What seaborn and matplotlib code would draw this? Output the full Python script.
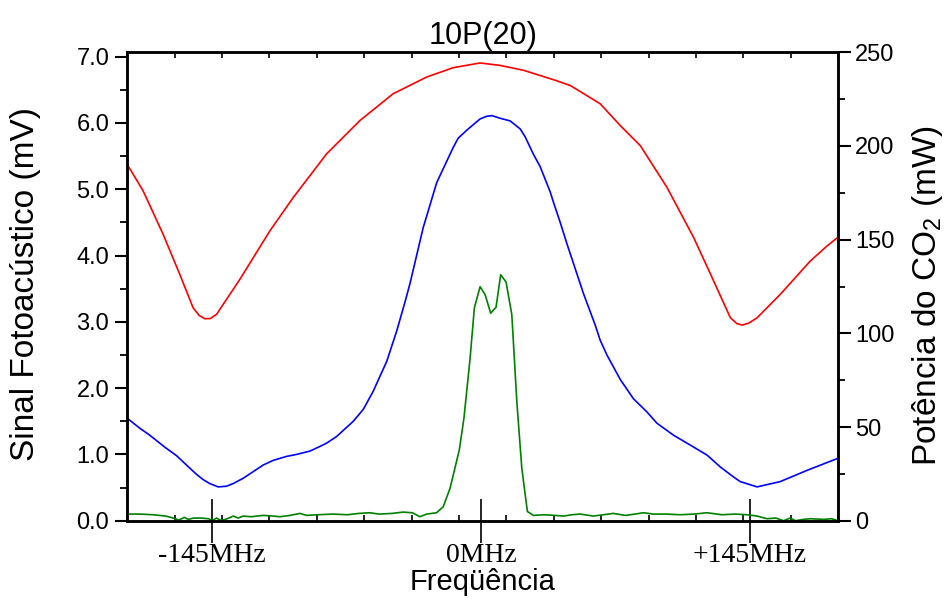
import numpy as np
import matplotlib
matplotlib.use("Agg")
import matplotlib.pyplot as plt
from matplotlib.ticker import FixedLocator, FormatStrFormatter
import seaborn as sns

# red curve - CO2 laser power (right axis, mW)
freq_red = [-191.0, -182.3, -171.5, -162.5, -155.3, -152.0, -149.0, -146.0, -142.7, -130.1,
            -113.9, -101.3, -83.3, -65.3, -47.4, -29.3, -15.0, -0.5, 10.3, 22.9, 39.0,
            48.1, 64.3, 75.1, 85.9, 100.3, 114.7, 125.5, 134.5, 138.0, 140.8, 144.5,
            148.9, 161.4, 177.6, 186.7, 192.8]
power_red = [190.4, 176.1, 152.9, 131.5, 113.6, 109.5, 107.8, 107.9, 110.1, 128.8,
             154.7, 172.5, 195.8, 213.6, 227.9, 236.8, 241.8, 244.3, 243.0, 240.4, 235.4,
             232.3, 222.5, 210.9, 200.2, 177.9, 151.1, 127.9, 108.3, 105.2, 104.4, 105.5,
             108.3, 120.8, 138.6, 146.7, 151.5]

# blue curve - photoacoustic signal (left axis, mV)
freq_blue = [-191.0, -184.3, -178.7, -175.1, -170.6, -164.2, -158.9, -153.5, -149.9, -146.3,
             -141.8, -137.3, -133.7, -128.3, -122.9, -117.5, -112.1, -104.9, -99.5, -92.3,
             -86.9, -83.3, -77.9, -68.9, -63.5, -58.2, -54.5, -50.9, -45.5, -41.0, -38.3,
             -31.2, -23.9, -15.0, -12.3, -9.6, -7.7, -0.5, 3.1, 5.8, 10.3, 15.7, 18.4, 21.1,
             23.8, 28.2, 31.9, 37.3, 39.1, 42.7, 46.3, 55.2, 61.6, 64.3, 67.9, 75.1, 82.2,
             89.5, 94.9, 103.8, 112.9, 121.9, 129.1, 136.2, 139.8, 148.9, 161.4, 175.9, 192.4]
signal_blue = [1.55, 1.40, 1.29, 1.21, 1.11, 0.98, 0.84, 0.70, 0.62, 0.56,
               0.51, 0.52, 0.56, 0.64, 0.74, 0.84, 0.91, 0.97, 1.00, 1.05,
               1.12, 1.17, 1.27, 1.50, 1.68, 1.95, 2.18, 2.40, 2.86, 3.30, 3.58,
               4.42, 5.10, 5.63, 5.77, 5.84, 5.89, 6.06, 6.10, 6.11, 6.07, 6.03, 5.97, 5.91,
               5.79, 5.53, 5.34, 4.96, 4.80, 4.50, 4.18, 3.43, 2.95, 2.72, 2.50, 2.13, 1.84,
               1.64, 1.47, 1.29, 1.14, 0.99, 0.81, 0.66, 0.59, 0.51, 0.59, 0.76, 0.94]

# green curve - photoacoustic signal (left axis, mV)
freq_green = [-191.0, -184, -177, -170, -166, -163, -160, -158, -155, -151, -147, -145,
              -142.7, -140, -136, -133.7, -131, -128.3, -124, -117.5, -112, -108.5, -103,
              -97.7, -94, -88, -80, -72, -66, -60, -55, -48, -42, -37, -33, -29.3, -24,
              -20.4, -16.7, -11.7, -9.2, -5.9, -3.6, -0.5, 2.2, 5.2, 8.1, 10.6, 13.5, 16.6,
              19.3, 22.0, 25.0, 28.2, 34, 40, 44.4, 49, 53.5, 60.6, 66, 71.4, 78, 83, 87.6,
              93, 100, 107.5, 115, 121.9, 130, 137, 143.5, 148.9, 154.3, 159, 163.2, 166.8,
              169.5, 174, 177.6, 184.8, 189, 192.8]
signal_green = [0.10, 0.10, 0.09, 0.07, 0.04, 0.01, 0.05, 0.02, 0.04, 0.04, 0.03, 0.00,
                0.04, 0.00, 0.04, 0.07, 0.04, 0.07, 0.06, 0.08, 0.07, 0.06, 0.08,
                0.11, 0.08, 0.09, 0.10, 0.09, 0.11, 0.12, 0.10, 0.11, 0.13, 0.12, 0.06, 0.10, 0.12,
                0.21, 0.49, 1.07, 1.55, 2.45, 3.21, 3.53, 3.41, 3.13, 3.22, 3.71, 3.60, 3.11,
                1.80, 0.79, 0.14, 0.08, 0.09, 0.08, 0.07, 0.09, 0.10, 0.07, 0.09, 0.11, 0.08, 0.10, 0.12,
                0.10, 0.10, 0.09, 0.10, 0.12, 0.09, 0.10, 0.09, 0.07, 0.03, 0.04, 0.00, 0.04,
                0.00, 0.02, 0.03, 0.02, 0.03, 0.00]

xtick_pos = [-145, 0, 145]
xtick_labels = ["-145MHz", "0MHz", "+145MHz"]

sns.set_style("ticks")
plt.rcParams["font.family"] = ["Liberation Sans", "DejaVu Sans"]
plt.rcParams["mathtext.fontset"] = "custom"
plt.rcParams["mathtext.rm"] = "Liberation Sans"
# plain black text and ticks like the original
for key in ["text.color", "axes.labelcolor", "xtick.color", "ytick.color", "axes.edgecolor"]:
    plt.rcParams[key] = "black"

fig = plt.figure(figsize=(9.5, 5.99), dpi=100)
ax = fig.add_axes([0.134, 0.1307, 0.7484, 0.782])
ax2 = ax.twinx()

sns.lineplot(x=freq_blue, y=signal_blue, ax=ax, color="#0000ff", linewidth=1.2)
sns.lineplot(x=freq_green, y=signal_green, ax=ax, color="#008000", linewidth=1.2)
sns.lineplot(x=freq_red, y=power_red, ax=ax2, color="#ff0000", linewidth=1.2)

xlo, xhi = -190.8, 192.7
ax.set_xlim(xlo, xhi)
ax.set_ylim(0, 7.065)
ax2.set_ylim(0, 250)

# x axis
ax.set_xticks(xtick_pos)
ax.set_xticklabels(xtick_labels, fontfamily="Liberation Serif", fontsize=20)
ax.xaxis.set_minor_locator(FixedLocator(np.linspace(xlo, xhi, 16)))
ax.tick_params(axis="x", which="major", direction="inout", length=32, width=1.2, pad=0)
ax.tick_params(axis="x", which="minor", direction="in", length=4, width=1.2, top=True, bottom=True)

# left y axis
ax.set_yticks(np.arange(0, 7.01, 1.0))
ax.yaxis.set_minor_locator(FixedLocator(np.arange(0.5, 7.0, 1.0)))
ax.yaxis.set_major_formatter(FormatStrFormatter("%.1f"))
ax.tick_params(axis="y", which="major", direction="out", length=9, width=1.5, labelsize=17, pad=4)
ax.tick_params(axis="y", which="minor", direction="out", length=5, width=1.3)

# right y axis
ax2.set_yticks(np.arange(0, 251, 50))
ax2.yaxis.set_minor_locator(FixedLocator(np.arange(25, 250, 50)))
ax2.tick_params(axis="y", which="major", direction="out", length=9, width=1.5, labelsize=17, pad=3)
ax2.tick_params(axis="y", which="minor", direction="out", length=5, width=1.3)

for a in (ax, ax2):
    for s in a.spines.values():
        s.set_linewidth(1.8)
        s.set_color("black")

ax.set_xlabel("Freqüência", fontsize=21)
ax.set_ylabel("Sinal Fotoacústico (mV)", fontsize=24)
ax2.set_ylabel(r"Potência do CO$_{\mathregular{2}}$ (mW)", fontsize=24)
ax.xaxis.set_label_coords(0.5, -0.1)
ax.yaxis.set_label_coords(-0.122, 0.505)
ax2.yaxis.set_label_coords(1.101, 0.48)
ax.set_title("10P(20)", fontsize=22, pad=6)

fig.savefig("out.png", dpi=100)
